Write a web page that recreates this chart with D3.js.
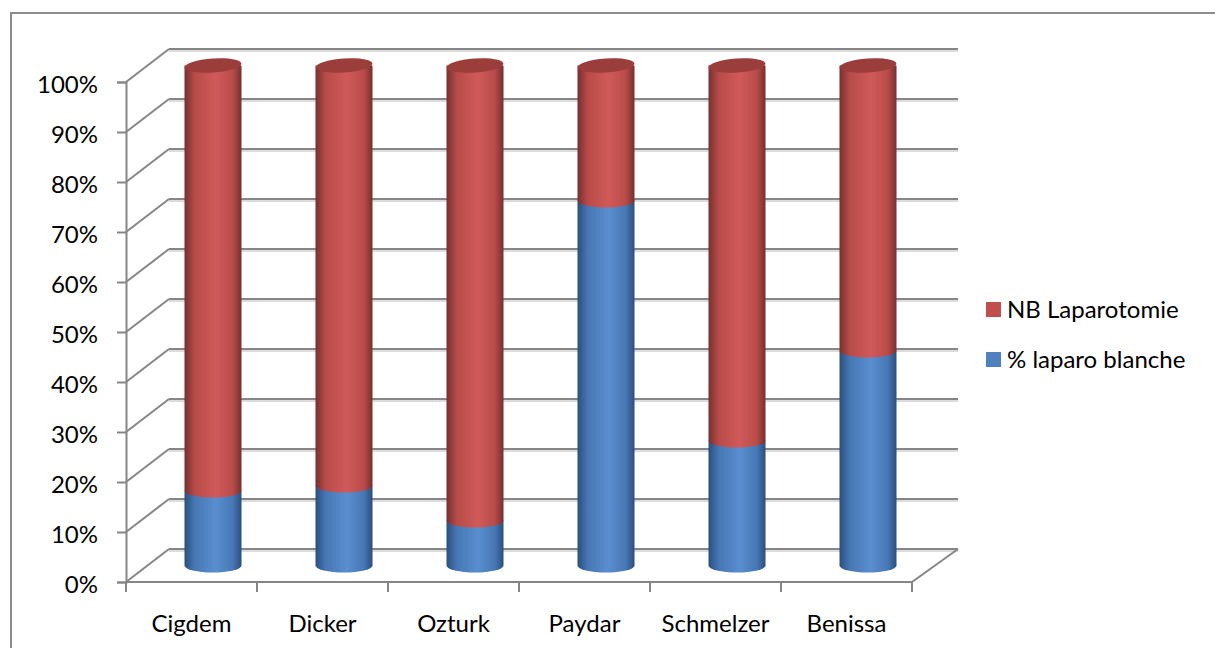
<!DOCTYPE html>
<html>
<head>
<meta charset="utf-8">
<script src="https://cdn.jsdelivr.net/npm/d3@7"></script>
<style>
  body { margin: 0; background: #fff; }
  text { font-family: Lato, "Open Sans", sans-serif; font-weight: 400; fill: #000; }
</style>
</head>
<body>
<div id="chart"></div>
<script>
// data (100% stacked, so the two series add to 100)
var categories = ['Cigdem', 'Dicker', 'Ozturk', 'Paydar', 'Schmelzer', 'Benissa']
var blanche = [15, 16, 9, 73, 25, 43]        // % laparo blanche
var laparotomie = [85, 84, 91, 27, 75, 57]   // NB Laparotomie
var yTicks = [0, 10, 20, 30, 40, 50, 60, 70, 80, 90, 100]
var seriesNames = ['NB Laparotomie', '% laparo blanche']

var width = 1215
var height = 648

// 3d offset of the back wall
var dx = 43
var dy = -33

var svg = d3.select('#chart')
    .append('svg')
    .attr('width', width)
    .attr('height', height)

// outer frame
svg.append('rect')
    .attr('x', 11)
    .attr('y', 13)
    .attr('width', 1230)
    .attr('height', 660)
    .attr('fill', 'none')
    .attr('stroke', '#8c8c8c')
    .attr('stroke-width', 2)

var x = d3.scaleBand()
    .domain(categories)
    .range([126, 912])

var y = d3.scaleLinear()
    .domain([0, 100])
    .range([582, 82])

// gradients for the cylinders
var defs = svg.append('defs')
function addGradient(id, dark, mid, light) {
    var g = defs.append('linearGradient')
        .attr('id', id)
        .attr('x1', 0).attr('x2', 1).attr('y1', 0).attr('y2', 0)
    g.append('stop').attr('offset', '0%').attr('stop-color', dark)
    g.append('stop').attr('offset', '18%').attr('stop-color', mid)
    g.append('stop').attr('offset', '55%').attr('stop-color', light)
    g.append('stop').attr('offset', '85%').attr('stop-color', mid)
    g.append('stop').attr('offset', '100%').attr('stop-color', dark)
}
addGradient('gradRed', '#76302e', '#b84b49', '#d05a59')
addGradient('gradBlue', '#2a4f7e', '#4777b4', '#5a8ed0')

// gridlines: back wall + left wall
var grid = svg.append('g')
function gridLine(x1, y1, x2, y2) {
    grid.append('line')
        .attr('x1', x1).attr('y1', y1 + 2).attr('x2', x2).attr('y2', y2 + 2)
        .attr('stroke', '#dcdcdc').attr('stroke-width', 2)
    grid.append('line')
        .attr('x1', x1).attr('y1', y1).attr('x2', x2).attr('y2', y2)
        .attr('stroke', '#868686').attr('stroke-width', 2)
}
yTicks.forEach(function (t) {
    var yy = y(t)
    gridLine(x.range()[0] + dx, yy + dy, x.range()[1] + dx + 3, yy + dy)
    grid.append('line')
        .attr('x1', x.range()[0]).attr('y1', yy)
        .attr('x2', x.range()[0] + dx).attr('y2', yy + dy)
        .attr('stroke', '#868686').attr('stroke-width', 2)
})

// floor front edge and right edge
grid.append('line')
    .attr('x1', x.range()[0]).attr('y1', y(0)).attr('x2', x.range()[1]).attr('y2', y(0))
    .attr('stroke', '#868686').attr('stroke-width', 2)
grid.append('line')
    .attr('x1', x.range()[1]).attr('y1', y(0)).attr('x2', x.range()[1] + dx + 3).attr('y2', y(0) + dy)
    .attr('stroke', '#868686').attr('stroke-width', 2)

// y axis
var yAxis = svg.append('g')
    .attr('transform', 'translate(' + x.range()[0] + ',0)')
    .call(d3.axisLeft(y).tickValues(yTicks).tickSize(9).tickPadding(8)
        .tickFormat(function (d) { return d + '%' }))
yAxis.select('.domain').attr('stroke', '#868686').attr('stroke-width', 2)
yAxis.selectAll('.tick line').attr('stroke', '#868686').attr('stroke-width', 2)
yAxis.selectAll('.tick text')
    .style('font-size', '24px')
    .attr('dy', '0.45em')
    .attr('x', -28)

// x axis
var xAxis = svg.append('g')
    .attr('transform', 'translate(0,' + y(0) + ')')
    .call(d3.axisBottom(x).tickSize(0).tickPadding(33))
xAxis.select('.domain').remove()
xAxis.selectAll('.tick text').style('font-size', '24px')
var xTickPos = x.domain().map(function (d) { return x(d) }).concat([x.range()[1]])
xAxis.selectAll('.septick')
    .data(xTickPos)
    .enter()
    .append('line')
    .attr('x1', function (d) { return d })
    .attr('x2', function (d) { return d })
    .attr('y1', 0)
    .attr('y2', 10)
    .attr('stroke', '#868686')
    .attr('stroke-width', 2)

// cylinders
var rx = 28.5
var ry = 7
var stackData = categories.map(function (c, i) {
    return { cat: c, blanche: blanche[i], lapa: laparotomie[i] }
})
var stack = d3.stack().keys(['blanche', 'lapa'])
var series = stack(stackData)
var fills = { blanche: 'url(#gradBlue)', lapa: 'url(#gradRed)' }

function segPath(cx, yTop, yBot) {
    return 'M' + (cx - rx) + ',' + yTop +
        'L' + (cx - rx) + ',' + yBot +
        'A' + rx + ',' + ry + ' 0 0 0 ' + (cx + rx) + ',' + yBot +
        'L' + (cx + rx) + ',' + yTop + 'Z'
}

var bars = svg.append('g')
series.forEach(function (s) {
    bars.selectAll('.seg-' + s.key)
        .data(s)
        .enter()
        .append('path')
        .attr('d', function (d) {
            var cx = x(d.data.cat) + x.bandwidth() / 2 + dx / 2
            return segPath(cx, y(d[1]) + dy / 2, y(d[0]) + dy / 2)
        })
        .attr('fill', fills[s.key])
})

// top caps
bars.selectAll('.cap')
    .data(stackData)
    .enter()
    .append('ellipse')
    .attr('cx', function (d) { return x(d.cat) + x.bandwidth() / 2 + dx / 2 })
    .attr('cy', y(100) + dy / 2)
    .attr('rx', rx)
    .attr('ry', ry)
    .attr('fill', '#9a3d3b')
    .attr('transform', function (d) {
        var cx = x(d.cat) + x.bandwidth() / 2 + dx / 2
        return 'rotate(-4,' + cx + ',' + (y(100) + dy / 2) + ')'
    })

// legend
var legendColors = ['#c0504d', '#4f81bd']
var legend = svg.append('g')
    .attr('transform', 'translate(986,302)')
legend.selectAll('rect')
    .data(seriesNames)
    .enter()
    .append('rect')
    .attr('x', 0)
    .attr('y', function (d, i) { return i * 50 })
    .attr('width', 15)
    .attr('height', 15)
    .attr('fill', function (d, i) { return legendColors[i] })
legend.selectAll('text')
    .data(seriesNames)
    .enter()
    .append('text')
    .attr('x', 21)
    .attr('y', function (d, i) { return i * 50 + 8 })
    .attr('dy', '0.35em')
    .style('font-size', '24px')
    .text(function (d) { return d })
</script>
</body>
</html>
